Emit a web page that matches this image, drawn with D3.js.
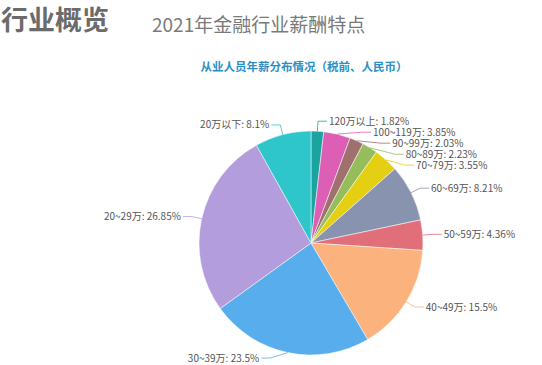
<!DOCTYPE html>
<html>
<head>
<meta charset="utf-8">
<script src="https://cdnjs.cloudflare.com/ajax/libs/d3/7.8.5/d3.min.js"></script>
<style>
  body { margin: 0; background: #fff; }
  svg { display: block; font-family: "Noto Sans CJK SC", "Noto Sans", sans-serif; }
</style>
</head>
<body>
<div id="chart"></div>
<script>
// salary bands, clockwise from 12 o'clock
var categories = ["120万以上", "100~119万", "90~99万", "80~89万", "70~79万", "60~69万",
                  "50~59万", "40~49万", "30~39万", "20~29万", "20万以下"];
var shares = [1.82, 3.85, 2.03, 2.23, 3.55, 8.21, 4.36, 15.5, 23.5, 26.85, 8.1];
var shareLabels = ["1.82%", "3.85%", "2.03%", "2.23%", "3.55%", "8.21%",
                   "4.36%", "15.5%", "23.5%", "26.85%", "8.1%"];
var colors = ["#1aa39f", "#dc5fb5", "#a0706f", "#95bd5c", "#e5cf13", "#8893b0",
              "#e06f7a", "#fbb27d", "#58adec", "#b49ddc", "#2ec5cb"];

var width = 542, height = 365;
var cx = 311, cy = 243, radius = 112;
var len1 = 10, len2 = 9, gap = 11;

var svg = d3.select("#chart").append("svg")
    .attr("width", width)
    .attr("height", height);

// headings
svg.append("text")
    .attr("x", 1).attr("y", 30)
    .attr("font-size", 27).attr("font-weight", "bold")
    .attr("fill", "#6b6b6b")
    .text("行业概览");
svg.append("text")
    .attr("x", 152).attr("y", 32)
    .attr("font-size", 19)
    .attr("fill", "#7a7a7a")
    .text("2021年金融行业薪酬特点");
svg.append("text")
    .attr("x", 304).attr("y", 71)
    .attr("text-anchor", "middle")
    .attr("font-size", 11.5).attr("font-weight", "bold")
    .attr("fill", "#2a8fc4")
    .text("从业人员年薪分布情况（税前、人民币）");

var data = categories.map(function (c, i) {
    return { name: c, value: shares[i], label: shareLabels[i], color: colors[i] };
});

var pie = d3.pie().sort(null).value(function (d) { return d.value; });
var arcs = pie(data);
var arc = d3.arc().innerRadius(0).outerRadius(radius);

var g = svg.append("g").attr("transform", "translate(" + cx + "," + cy + ")");
g.selectAll("path.slice")
    .data(arcs)
    .enter()
    .append("path")
    .attr("class", "slice")
    .attr("d", arc)
    .attr("fill", function (d) { return d.data.color; })
    .attr("stroke", "#fff")
    .attr("stroke-width", 0.5);

// label layout: natural spot on a bigger circle, then push apart per side
var R = radius + len1;
var labels = arcs.map(function (d) {
    var a = (d.startAngle + d.endAngle) / 2;
    return {
        d: d,
        right: Math.sin(a) >= 0,
        x0: radius * Math.sin(a),
        y0: -radius * Math.cos(a),
        y: -R * Math.cos(a)
    };
});

var maxY = height - 7 - cy;
[true, false].forEach(function (side) {
    var list = labels.filter(function (l) { return l.right === side; })
        .sort(function (a, b) { return a.y - b.y; });
    for (var i = 1; i < list.length; i++) {
        if (list[i].y < list[i - 1].y + gap) list[i].y = list[i - 1].y + gap;
    }
    for (var j = list.length - 1; j >= 0; j--) {
        var lim = j === list.length - 1 ? maxY : list[j + 1].y - gap;
        if (list[j].y > lim) list[j].y = lim;
    }
});

labels.forEach(function (l) {
    var dir = l.right ? 1 : -1;
    var dy = l.y;
    l.x1 = Math.abs(dy) < R ? dir * Math.sqrt(R * R - dy * dy) : l.x0;
    l.x2 = l.x1 + dir * len2;
});

g.selectAll("path.leader")
    .data(labels)
    .enter()
    .append("path")
    .attr("class", "leader")
    .attr("d", function (l) {
        return d3.line()([[l.x0, l.y0], [l.x1, l.y], [l.x2, l.y]]);
    })
    .attr("fill", "none")
    .attr("stroke", function (l) { return l.d.data.color; })
    .attr("stroke-opacity", 0.8)
    .attr("stroke-width", 1);

g.selectAll("text.lbl")
    .data(labels)
    .enter()
    .append("text")
    .attr("class", "lbl")
    .attr("x", function (l) { return l.x2 + (l.right ? 2 : -2); })
    .attr("y", function (l) { return l.y; })
    .attr("dy", "0.35em")
    .attr("text-anchor", function (l) { return l.right ? "start" : "end"; })
    .attr("font-size", 10)
    .attr("fill", "#555")
    .text(function (l) { return l.d.data.name + ": " + l.d.data.label; });
</script>
</body>
</html>
